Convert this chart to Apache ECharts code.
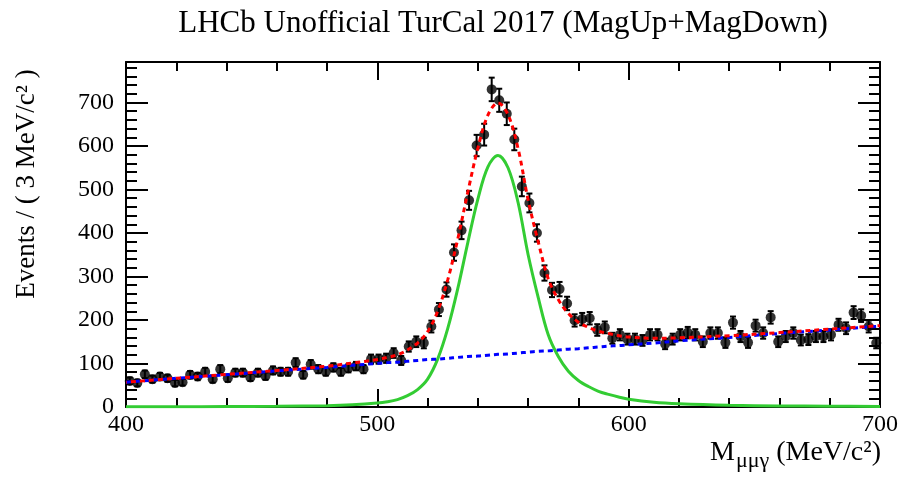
<!DOCTYPE html>
<html><head><meta charset="utf-8">
<script src="https://cdn.jsdelivr.net/npm/echarts@6/dist/echarts.min.js"></script>
<style>html,body{margin:0;padding:0;background:#fff}#c{width:901px;height:477px}</style>
</head><body><div id="c"></div>
<script>
// ---- data ----
const binLow = 400, binWidth = 3;
const counts = [60,55,75,64,70,66,55,57,74,70,
  81,64,87,66,79,79,68,79,71,84,
  81,81,102,74,98,87,81,91,81,89,
  94,87,110,110,112,124,107,139,150,147,
  185,224,270,355,406,475,601,626,730,705,
  674,615,507,469,400,308,269,271,238,199,
  202,204,177,183,158,166,156,156,153,166,
  166,145,156,166,171,166,150,170,170,148,
  194,162,148,187,170,206,150,162,170,154,
  155,162,162,166,189,181,217,210,185,147];
const curveX     = [400,420,440,460,480,490,500,504,508,512,516,520,524,528,532,536,540,544,548,552,556,560,564,568,572,576,580,584,588,592,596,600,610,620,640,660,680,700];
const bkgCurve   = [57,66,74,83,91,96,100,102,103,105,107,109,110,112,114,116,117,119,121,122,124,126,128,129,131,133,134,136,138,140,141,143,147,152,160,169,177,186];
const sigCurve   = [0.4,0.7,1,1.5,3,5,9,12,17,26,40,64,110,180,272,378,478,552,578,550,470,350,252,166,116,82,61,47,36,29,23,18,11,7.5,4,2.5,1.7,1.2];
const totalCurve = [57,66,75,84,94,101,109,114,120,131,147,173,220,292,386,494,595,671,699,672,594,476,380,295,247,215,195,183,174,169,164,161,158,159,164,171,179,187];
const xRange = [400, 700], yRange = [0, 793];
const titleText = 'LHCb Unofficial TurCal 2017 (MagUp+MagDown)';
const yTitle = 'Events / ( 3 MeV/c\u00B2 )';

// ---- build ----
const FONT = 'Liberation Serif';
const pts = counts.map((c, i) => [binLow + binWidth * (i + 0.5), c, Math.sqrt(c)]);
const zip = (xs, ys) => xs.map((x, i) => [x, ys[i]]);

function axisCommon(show) {
  return {
    axisLine: {show: true, onZero: false, lineStyle: {color: '#000', width: 2}},
    axisTick: {show: true, inside: true, length: 18, lineStyle: {color: '#000', width: 2}},
    minorTick: {show: true, splitNumber: 5, length: 9, lineStyle: {color: '#000', width: 2}},
    axisLabel: {show: show, color: '#000', fontFamily: FONT, fontSize: 24},
    splitLine: {show: false}, minorSplitLine: {show: false}
  };
}
const xa = (pos, show) => Object.assign({type: 'value', min: xRange[0], max: xRange[1], interval: 100, position: pos}, axisCommon(show));
const ya = (pos, show) => {
  const a = Object.assign({type: 'value', min: yRange[0], max: yRange[1], interval: 100, position: pos}, axisCommon(show));
  a.axisTick.length = 22; a.minorTick.length = 11;
  return a;
};
const X0 = xa('bottom', true); X0.axisLabel.margin = 6;
const Y0 = ya('left', true); Y0.axisLabel.margin = 12; Y0.axisLabel.showMaxLabel = false;

const chart = echarts.init(document.getElementById('c'), null, {renderer: 'canvas'});
chart.setOption({
  animation: false,
  backgroundColor: '#fff',
  grid: {left: 126, right: 21, top: 62, bottom: 70},
  xAxis: [X0, xa('top', false)],
  yAxis: [Y0, ya('right', false)],
  graphic: [
    {type: 'text', x: 503, y: 24, style: {text: titleText, font: '31px "Liberation Serif"', fill: '#000', align: 'center', verticalAlign: 'middle'}},
    {type: 'text', x: 27, y: 184, rotation: Math.PI / 2, style: {text: yTitle, font: '27px "Liberation Serif"', fill: '#000', align: 'center', verticalAlign: 'middle'}},
    {type: 'text', x: 881, y: 453, style: {
      text: '{a|M}{s|\u03BC\u03BC\u03B3}{a| (MeV/c\u00B2)}', align: 'right', verticalAlign: 'middle',
      rich: {a: {fontFamily: FONT, fontSize: 28, fill: '#000', lineHeight: 34, verticalAlign: 'middle'},
             s: {fontFamily: FONT, fontSize: 22, fill: '#000', lineHeight: 34, padding: [16, 0, 0, 1]}}}}
  ],
  series: [
    {type: 'custom', xAxisIndex: 0, yAxisIndex: 0, z: 2, data: pts, encode: {x: 0, y: 1},
      renderItem: function (params, api) {
        const x = api.value(0), y = api.value(1), e = api.value(2);
        const t = api.coord([x, y + e]), b = api.coord([x, y - e]);
        const cap = 3, st = {stroke: '#000', lineWidth: 2};
        return {type: 'group', children: [
          {type: 'line', shape: {x1: t[0], y1: t[1], x2: b[0], y2: b[1]}, style: st},
          {type: 'line', shape: {x1: t[0] - cap, y1: t[1], x2: t[0] + cap, y2: t[1]}, style: st},
          {type: 'line', shape: {x1: b[0] - cap, y1: b[1], x2: b[0] + cap, y2: b[1]}, style: st}
        ]};
      }},
    {type: 'scatter', xAxisIndex: 0, yAxisIndex: 0, z: 3, symbol: 'circle', symbolSize: 10,
      itemStyle: {color: '#000'}, data: pts.map(p => [p[0], p[1]])},
    {type: 'line', z: 4, data: zip(curveX, sigCurve), smooth: 0.35, showSymbol: false,
      lineStyle: {color: '#33cc33', width: 3}},
    {type: 'line', z: 5, data: zip(curveX, bkgCurve), smooth: 0.35, showSymbol: false,
      lineStyle: {color: '#0000ff', width: 3, type: [5, 4]}},
    {type: 'line', z: 6, data: zip(curveX, totalCurve), smooth: 0.35, showSymbol: false,
      lineStyle: {color: '#ff0000', width: 3, type: [5, 4], dashOffset: 4}}
  ]
});
</script></body></html>
